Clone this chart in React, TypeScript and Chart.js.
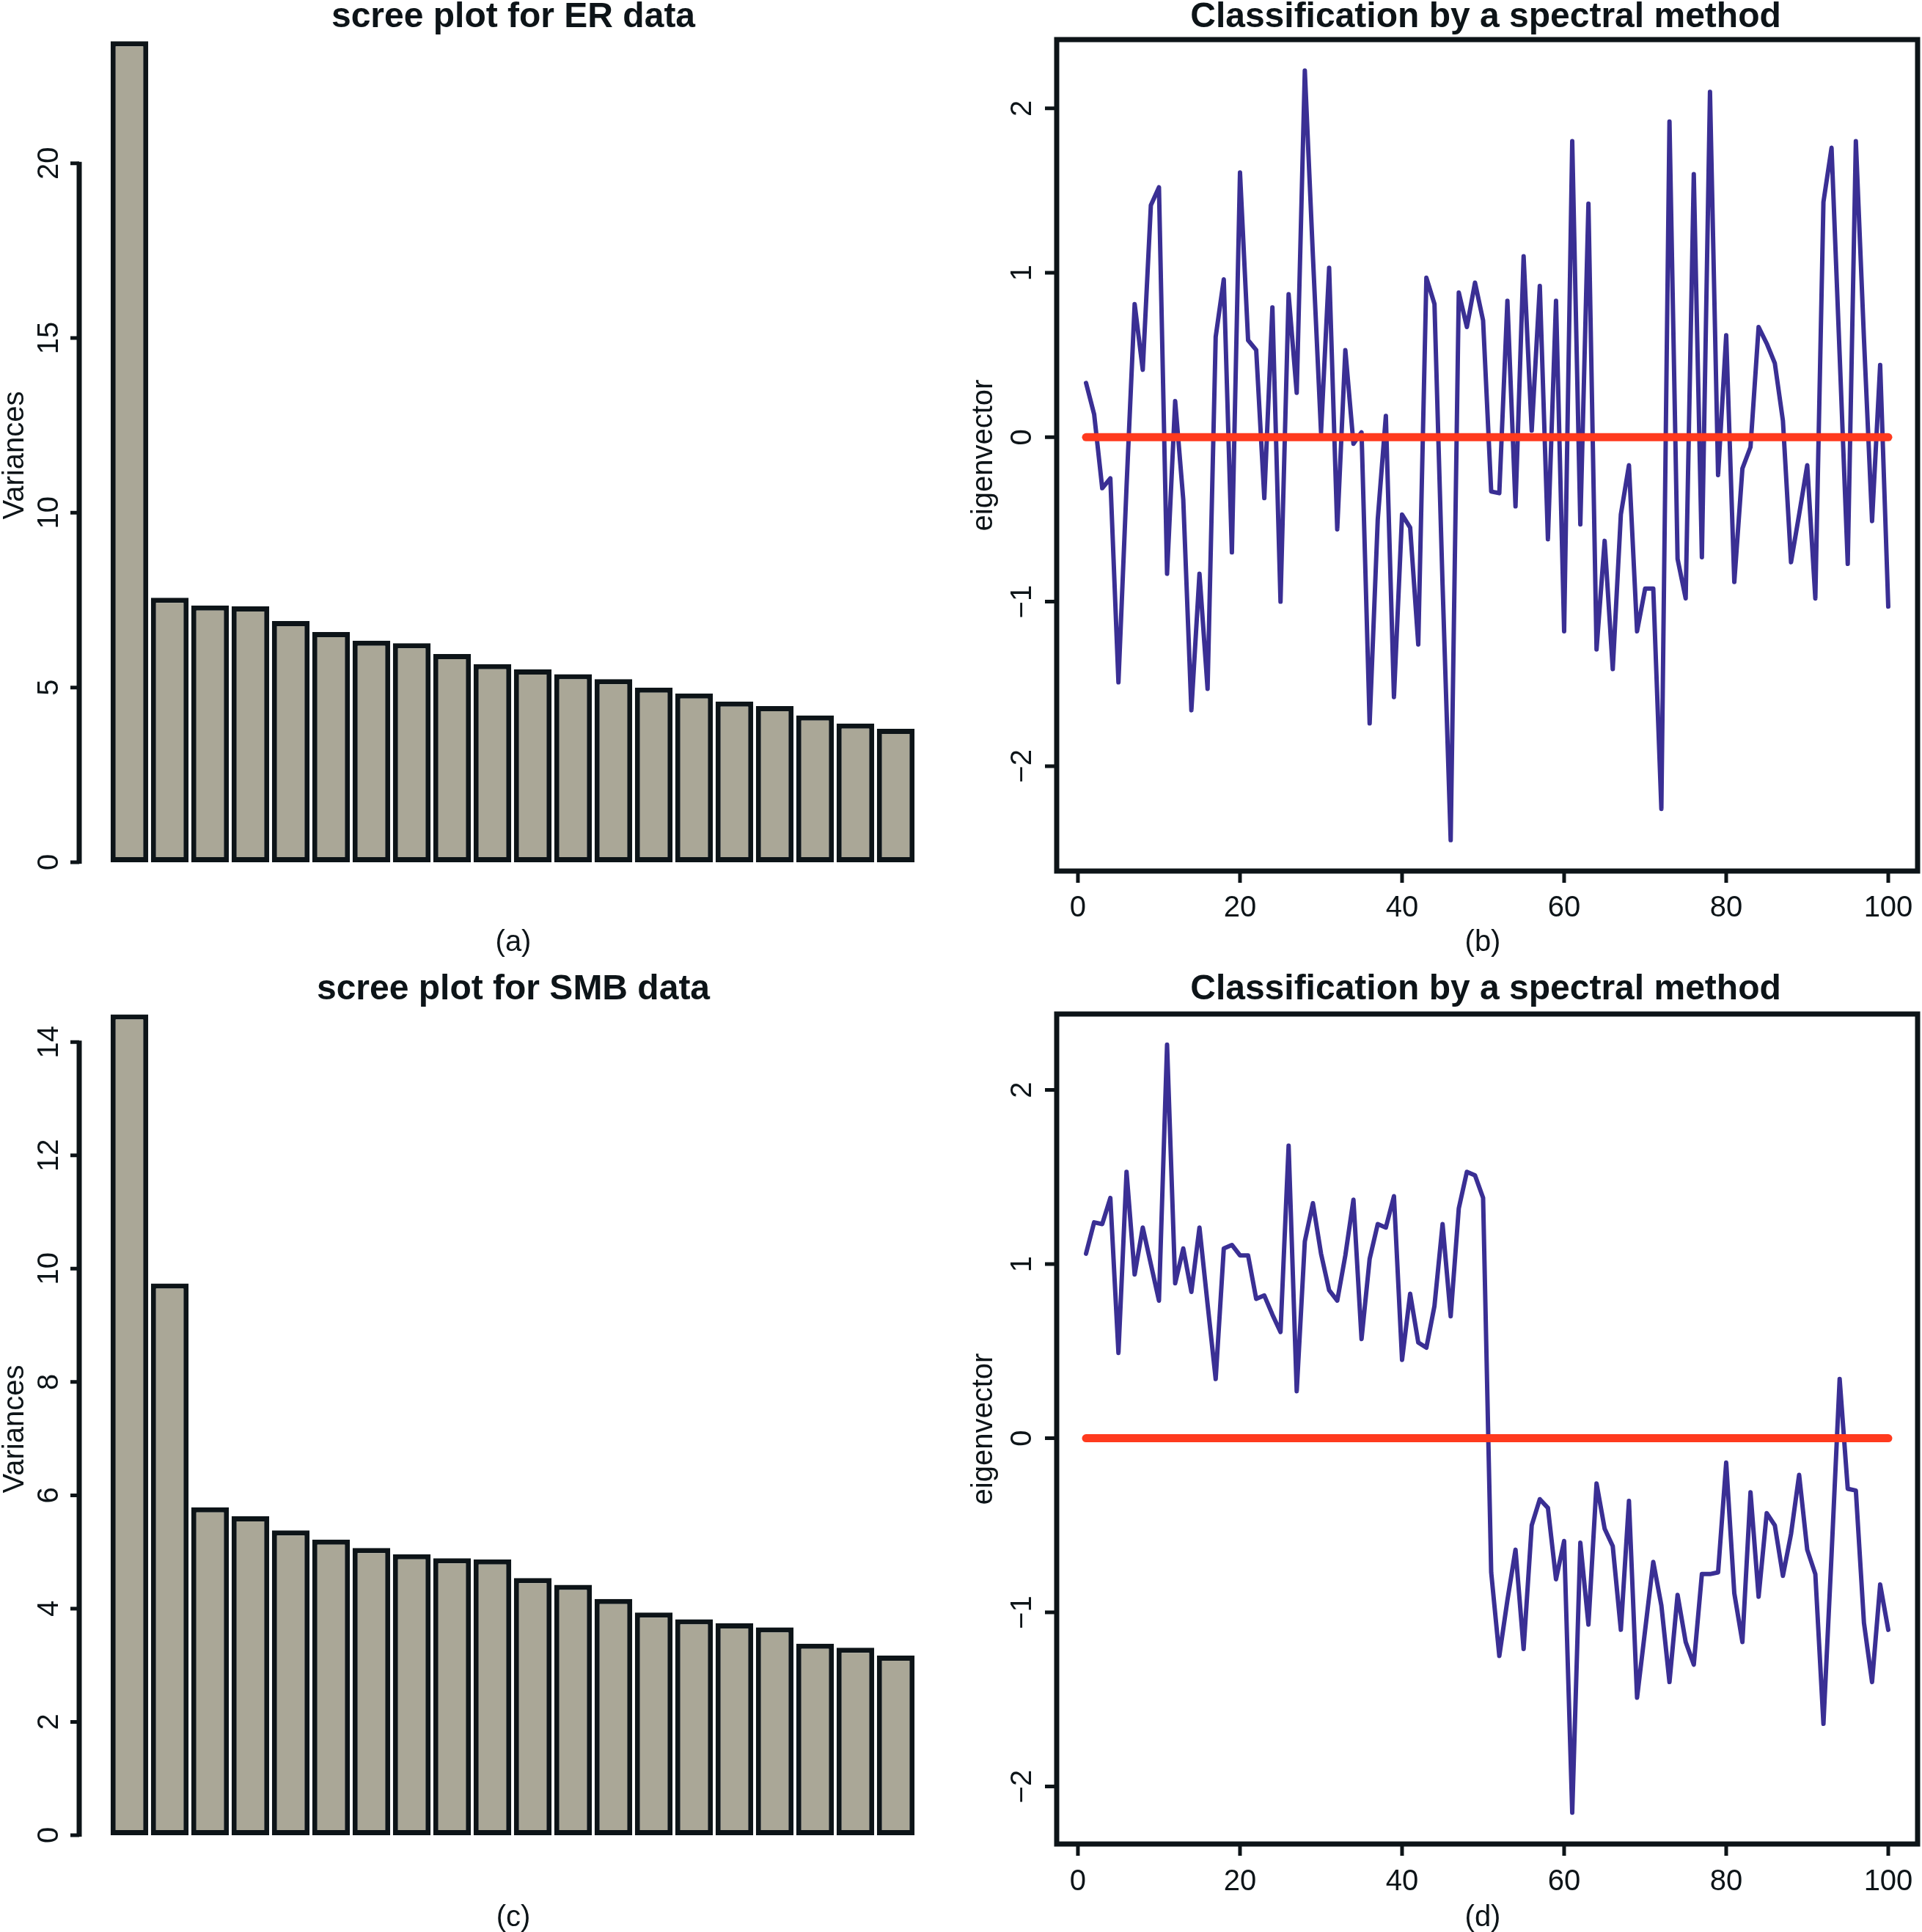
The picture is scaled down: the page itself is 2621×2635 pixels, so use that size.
import React, { useEffect, useRef } from "react";
import { Chart, registerables } from "chart.js";

Chart.register(...registerables);

// ---------------- data ----------------
const componentNames = [
  "Comp.1", "Comp.2", "Comp.3", "Comp.4", "Comp.5", "Comp.6", "Comp.7", "Comp.8", "Comp.9", "Comp.10",
  "Comp.11", "Comp.12", "Comp.13", "Comp.14", "Comp.15", "Comp.16", "Comp.17", "Comp.18", "Comp.19", "Comp.20",
];

const erVariances = [
  23.49, 7.57, 7.35, 7.32, 6.9, 6.59, 6.34, 6.27, 5.96, 5.67,
  5.52, 5.38, 5.24, 5.0, 4.83, 4.6, 4.47, 4.2, 3.97, 3.82,
];

const smbVariances = [
  14.49, 9.74, 5.79, 5.63, 5.38, 5.22, 5.07, 4.96, 4.89, 4.87,
  4.54, 4.42, 4.17, 3.93, 3.81, 3.74, 3.67, 3.38, 3.31, 3.17,
];

const erEigenvector = [
  0.33, 0.14, -0.31, -0.25, -1.49, -0.3, 0.81, 0.41, 1.41, 1.52,
  -0.83, 0.22, -0.38, -1.66, -0.83, -1.53, 0.61, 0.96, -0.7, 1.61,
  0.59, 0.53, -0.37, 0.79, -1.0, 0.87, 0.27, 2.23, 1.1, 0.03,
  1.03, -0.56, 0.53, -0.04, 0.03, -1.74, -0.5, 0.13, -1.58, -0.47,
  -0.55, -1.26, 0.97, 0.81, -0.9, -2.45, 0.88, 0.67, 0.94, 0.71,
  -0.33, -0.34, 0.83, -0.42, 1.1, 0.04, 0.92, -0.62, 0.83, -1.18,
  1.8, -0.53, 1.42, -1.29, -0.63, -1.41, -0.47, -0.17, -1.18, -0.92,
  -0.92, -2.26, 1.92, -0.74, -0.98, 1.6, -0.73, 2.1, -0.23, 0.62,
  -0.88, -0.19, -0.06, 0.67, 0.57, 0.45, 0.1, -0.76, -0.47, -0.17,
  -0.98, 1.43, 1.76, 0.5, -0.77, 1.8, 0.6, -0.51, 0.44, -1.03,
];

const smbEigenvector = [
  1.06, 1.24, 1.23, 1.38, 0.49, 1.53, 0.94, 1.21, 1.0, 0.79,
  2.26, 0.89, 1.09, 0.84, 1.21, 0.77, 0.34, 1.09, 1.11, 1.05,
  1.05, 0.8, 0.82, 0.71, 0.61, 1.68, 0.27, 1.13, 1.35, 1.06,
  0.85, 0.79, 1.05, 1.37, 0.57, 1.03, 1.23, 1.21, 1.39, 0.45,
  0.83, 0.55, 0.52, 0.76, 1.23, 0.7, 1.32, 1.53, 1.51, 1.38,
  -0.77, -1.25, -0.93, -0.64, -1.21, -0.5, -0.35, -0.4, -0.81, -0.59,
  -2.15, -0.6, -1.07, -0.26, -0.52, -0.62, -1.1, -0.36, -1.49, -1.1,
  -0.71, -0.96, -1.4, -0.9, -1.17, -1.3, -0.78, -0.78, -0.77, -0.14,
  -0.89, -1.17, -0.31, -0.91, -0.43, -0.5, -0.79, -0.55, -0.21, -0.64,
  -0.78, -1.64, -0.67, 0.34, -0.29, -0.3, -1.06, -1.4, -0.84, -1.1,
];

const threshold = 0;

const erVarianceTicks = [0, 5, 10, 15, 20];
const smbVarianceTicks = [0, 2, 4, 6, 8, 10, 12, 14];
const eigenIndexTicks = [0, 20, 40, 60, 80, 100];
const eigenValueTicks = [-2, -1, 0, 1, 2];

// ---------------- style ----------------
const INK = "#0d1418";
const BAR_FILL = "#aaa797";
const LINE_BLUE = "#3a2f94";
const LINE_RED = "#ff3a1e";
const FONT = '"Liberation Sans", Arial, Helvetica, sans-serif';

const fmt = (v: number) => (v < 0 ? "\u2212" + Math.abs(v) : String(v));

type Spec = {
  left: number; top: number; width: number; height: number;
  padding: { left: number; right: number; top: number; bottom: number };
  kind: "bar" | "line";
  values: number[];
  xMin?: number; xMax?: number;
  yMin: number; yMax: number;
  yTicks: number[];
  yAxisX?: number;
  yTickLen: number;
  yLabelX: number;
  xTicks?: number[];
  xTickLen?: number;
  xLabelY?: number;
  box: boolean;
  yTitle: string; yTitleX: number; yTitleY: number;
  title: string; titleX: number; titleY: number;
  sub: string; subX: number; subY: number;
};

function makeOverlay(spec: Spec) {
  return {
    id: "rOverlay",
    afterDraw(chart: any) {
      const ctx: CanvasRenderingContext2D = chart.ctx;
      const a = chart.chartArea;
      const xs = chart.scales.x;
      const ys = chart.scales.y;
      ctx.save();
      ctx.strokeStyle = INK;
      ctx.fillStyle = INK;
      ctx.lineCap = "butt";

      if (spec.box) {
        ctx.lineWidth = 7;
        ctx.lineJoin = "miter";
        ctx.strokeRect(a.left, a.top, a.right - a.left, a.bottom - a.top);
      }

      // y axis
      const ax = spec.yAxisX ?? a.left;
      const yp = spec.yTicks.map((v) => ys.getPixelForValue(v));
      if (!spec.box) {
        ctx.lineWidth = 7;
        ctx.beginPath();
        ctx.moveTo(ax, yp[0] + 2);
        ctx.lineTo(ax, yp[yp.length - 1] - 2);
        ctx.stroke();
      }
      ctx.lineWidth = 5;
      ctx.beginPath();
      yp.forEach((p) => {
        ctx.moveTo(ax, p);
        ctx.lineTo(ax - spec.yTickLen, p);
      });
      ctx.stroke();
      ctx.font = `40px ${FONT}`;
      ctx.textAlign = "center";
      ctx.textBaseline = "alphabetic";
      spec.yTicks.forEach((v, i) => {
        ctx.save();
        ctx.translate(spec.yLabelX, yp[i]);
        ctx.rotate(-Math.PI / 2);
        ctx.fillText(fmt(v), 0, 0);
        ctx.restore();
      });

      // x axis
      if (spec.xTicks) {
        const xp = spec.xTicks.map((v) => xs.getPixelForValue(v));
        ctx.lineWidth = 5;
        ctx.beginPath();
        xp.forEach((p) => {
          ctx.moveTo(p, a.bottom);
          ctx.lineTo(p, a.bottom + (spec.xTickLen ?? 15));
        });
        ctx.stroke();
        spec.xTicks.forEach((v, i) => {
          ctx.fillText(fmt(v), xp[i], spec.xLabelY ?? a.bottom + 60);
        });
      }

      // y title
      ctx.save();
      ctx.translate(spec.yTitleX, spec.yTitleY);
      ctx.rotate(-Math.PI / 2);
      ctx.fillText(spec.yTitle, 0, 0);
      ctx.restore();

      // panel label
      ctx.fillText(spec.sub, spec.subX, spec.subY);

      // title
      ctx.font = `bold 48px ${FONT}`;
      ctx.fillText(spec.title, spec.titleX, spec.titleY);

      ctx.restore();
    },
  };
}

function buildConfig(spec: Spec): any {
  const common = {
    responsive: false,
    maintainAspectRatio: false,
    animation: false,
    devicePixelRatio: 1,
    layout: { padding: spec.padding },
    plugins: {
      legend: { display: false },
      tooltip: { enabled: false },
      title: { display: false },
    },
  };
  if (spec.kind === "bar") {
    return {
      type: "bar",
      data: {
        labels: componentNames,
        datasets: [
          {
            data: spec.values,
            backgroundColor: BAR_FILL,
            borderColor: INK,
            borderWidth: 7,
            borderSkipped: false,
            barPercentage: 0.935,
            categoryPercentage: 1,
          },
        ],
      },
      options: {
        ...common,
        scales: {
          x: { display: false, offset: true, grid: { display: false } },
          y: { display: false, min: spec.yMin, max: spec.yMax },
        },
      },
      plugins: [makeOverlay(spec)],
    };
  }
  const n = spec.values.length;
  return {
    type: "line",
    data: {
      datasets: [
        {
          data: [
            { x: 1, y: threshold },
            { x: n, y: threshold },
          ],
          borderColor: LINE_RED,
          borderWidth: 11,
          borderCapStyle: "round",
          pointRadius: 0,
          fill: false,
        },
        {
          data: spec.values.map((v, i) => ({ x: i + 1, y: v })),
          borderColor: LINE_BLUE,
          borderWidth: 6,
          borderJoinStyle: "round",
          borderCapStyle: "round",
          pointRadius: 0,
          tension: 0,
          fill: false,
        },
      ],
    },
    options: {
      ...common,
      scales: {
        x: { type: "linear", display: false, min: spec.xMin, max: spec.xMax },
        y: { type: "linear", display: false, min: spec.yMin, max: spec.yMax },
      },
    },
    plugins: [makeOverlay(spec)],
  };
}

const panels: Spec[] = [
  {
    left: 0, top: 0, width: 1310, height: 1317,
    padding: { left: 149, right: 61, top: 32, bottom: 141 },
    kind: "bar", values: erVariances,
    yMin: 0, yMax: 24,
    yTicks: erVarianceTicks, yAxisX: 108, yTickLen: 12, yLabelX: 79,
    box: false,
    yTitle: "Variances", yTitleX: 32, yTitleY: 621,
    title: "scree plot for ER data", titleX: 700, titleY: 37,
    sub: "(a)", subX: 700, subY: 1297,
  },
  {
    left: 1310, top: 0, width: 1311, height: 1317,
    padding: { left: 131, right: 6, top: 54, bottom: 129 },
    kind: "line", values: erEigenvector,
    xMin: -2.62, xMax: 103.62,
    yMin: -2.638, yMax: 2.418,
    yTicks: eigenValueTicks, yTickLen: 16, yLabelX: 96,
    xTicks: eigenIndexTicks, xTickLen: 16, xLabelY: 1250,
    box: true,
    yTitle: "eigenvector", yTitleX: 43, yTitleY: 621,
    title: "Classification by a spectral method", titleX: 716, titleY: 37,
    sub: "(b)", subX: 712, subY: 1297,
  },
  {
    left: 0, top: 1317, width: 1310, height: 1318,
    padding: { left: 149, right: 61, top: 27, bottom: 132 },
    kind: "bar", values: smbVariances,
    yMin: 0, yMax: 15,
    yTicks: smbVarianceTicks, yAxisX: 108, yTickLen: 12, yLabelX: 79,
    box: false,
    yTitle: "Variances", yTitleX: 32, yTitleY: 632,
    title: "scree plot for SMB data", titleX: 700, titleY: 46,
    sub: "(c)", subX: 700, subY: 1310,
  },
  {
    left: 1310, top: 1317, width: 1311, height: 1318,
    padding: { left: 131, right: 6, top: 66, bottom: 120 },
    kind: "line", values: smbEigenvector,
    xMin: -2.62, xMax: 103.62,
    yMin: -2.33, yMax: 2.436,
    yTicks: eigenValueTicks, yTickLen: 16, yLabelX: 96,
    xTicks: eigenIndexTicks, xTickLen: 16, xLabelY: 1261,
    box: true,
    yTitle: "eigenvector", yTitleX: 43, yTitleY: 632,
    title: "Classification by a spectral method", titleX: 716, titleY: 46,
    sub: "(d)", subX: 712, subY: 1310,
  },
];

function Panel({ spec }: { spec: Spec }) {
  const ref = useRef<HTMLCanvasElement | null>(null);
  useEffect(() => {
    if (!ref.current) return;
    const chart = new Chart(ref.current, buildConfig(spec));
    return () => chart.destroy();
  }, [spec]);
  return (
    <canvas
      ref={ref}
      width={spec.width}
      height={spec.height}
      style={{
        position: "absolute",
        left: spec.left,
        top: spec.top,
        width: spec.width,
        height: spec.height,
      }}
    />
  );
}

export default function App() {
  return (
    <div
      style={{
        position: "absolute",
        left: 0,
        top: 0,
        width: 2621,
        height: 2635,
        background: "#ffffff",
        overflow: "hidden",
      }}
    >
      {panels.map((p, i) => (
        <Panel key={i} spec={p} />
      ))}
    </div>
  );
}
